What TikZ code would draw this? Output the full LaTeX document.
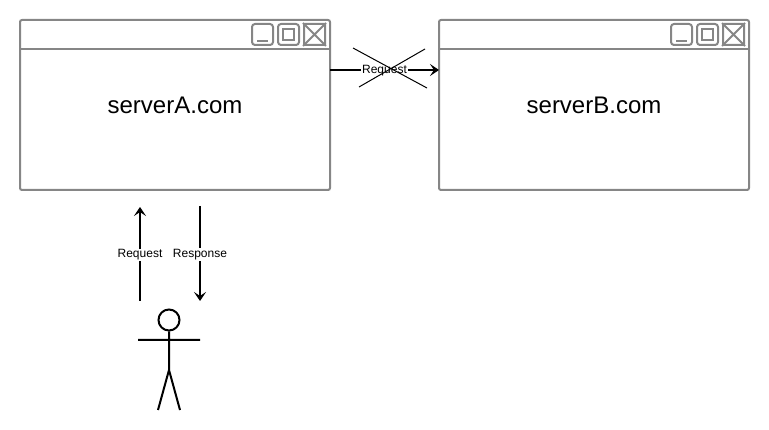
\documentclass[tikz,border=0pt]{standalone}
\usepackage{fontspec}
\setmainfont{Liberation Sans}
\usetikzlibrary{arrows.meta}
\definecolor{framegray}{HTML}{868686}
\tikzset{
windowbox/.style={draw=framegray,line width=2pt,rounded corners=2pt,minimum width=310pt,minimum height=170pt,inner sep=0pt,font=\fontsize{24}{24}\selectfont},
winbutton/.style={draw=framegray,line width=2pt,rounded corners=3pt,minimum width=21pt,minimum height=21pt,inner sep=0pt},
winclose/.style={draw=framegray,line width=2pt,rounded corners=1pt,minimum width=21pt,minimum height=21pt,inner sep=0pt},
winmark/.style={draw=framegray,line width=2pt,minimum width=11pt,minimum height=11pt,inner sep=0pt},
msgarrow/.style={line width=2pt,-{Stealth[length=9pt,width=12pt,inset=4pt]}},
msglabel/.style={fill=white,inner sep=1pt,yshift=-1pt,font=\fontsize{12}{12}\selectfont},
actorline/.style={line width=2pt}
}
\begin{document}
\begin{tikzpicture}[x=1pt,y=-1pt]
\useasboundingbox (0,0) rectangle (769,430);
\node[windowbox] (serverA) at (175,105) {serverA.com};
\node[windowbox] (serverB) at (594,105) {serverB.com};
\draw[framegray,line width=2pt] (20,49) -- (330,49) (439,49) -- (749,49);
% buttons of the two title bars
\foreach \dx/\win in {0/A,419/B} {
\node[winbutton] (min\win) at (262.5+\dx,34.5) {};
\node[winbutton] (max\win) at (288.5+\dx,34.5) {};
\node[winclose] (close\win) at (314.5+\dx,34.5) {};
\node[winmark] (mark\win) at (max\win) {};
\draw[framegray,line width=2pt] (257+\dx,41) -- (268+\dx,41);
\draw[framegray,line width=2pt] (close\win.north west) -- (close\win.south east) (close\win.north east) -- (close\win.south west);
}
\coordinate (reqA) at (330,70);
\coordinate (reqB) at (439,70);
\draw[msgarrow] (reqA) -- (reqB)node[midway,msglabel]{Request};
\draw[line width=1pt] (353,48) -- (427,88) (359,87) -- (425,49);
% the actor
\node[circle,draw,line width=2pt,minimum size=21pt,inner sep=0pt] (head) at (169,320) {};
\coordinate (hip) at (169,370);
\draw[actorline] (head) -- (hip) -- (158,410) (hip) -- (180,410) (138,340) -- (200,340);
\coordinate (upFrom) at (140,301);
\coordinate (upTo) at (140,207);
\coordinate (downFrom) at (200,206);
\coordinate (downTo) at (200,301);
\draw[msgarrow] (upFrom) -- (upTo)node[midway,msglabel]{Request};
\draw[msgarrow] (downFrom) -- (downTo)node[pos=0.5,msglabel]{Response};
\end{tikzpicture}
\end{document}
